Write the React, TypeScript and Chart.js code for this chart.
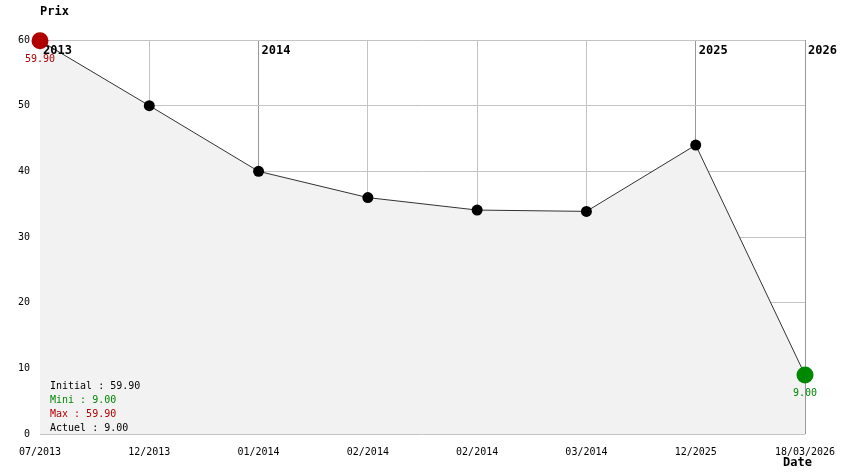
import React, { useEffect, useRef } from "react";
import { Chart, registerables } from "chart.js";

Chart.register(...registerables);

const categories = ["07/2013", "12/2013", "01/2014", "02/2014", "02/2014", "03/2014", "12/2025", "18/03/2026"];
const prices = [59.9, 50, 40, 36, 34.1, 33.9, 44, 9];
const yearMarks = [
  { index: 0, label: "2013" },
  { index: 2, label: "2014" },
  { index: 6, label: "2025" },
  { index: 7, label: "2026" },
];
const summaryLines = [
  { text: "Initial : 59.90", color: "#000000" },
  { text: "Mini : 9.00", color: "#008800" },
  { text: "Max : 59.90", color: "#b00000" },
  { text: "Actuel : 9.00", color: "#000000" },
];

const MONO = "'DejaVu Sans Mono', 'Liberation Mono', monospace";
const RED = "#b00000";
const GREEN = "#008800";

export default function App() {
  const ref = useRef<HTMLCanvasElement | null>(null);

  useEffect(() => {
    const canvas = ref.current;
    if (!canvas) return;
    const minIdx = prices.indexOf(Math.min(...prices));
    const maxIdx = prices.indexOf(Math.max(...prices));
    const pointColors = prices.map((_, i) => (i === maxIdx ? RED : i === minIdx ? GREEN : "#000000"));
    const pointRadii = prices.map((_, i) => (i === maxIdx || i === minIdx ? 8.5 : 5.5));
    const yearIdx = new Set(yearMarks.map((m) => m.index));

    const overlay = {
      id: "overlay",
      afterDatasetDraw(chart: any, args: any) {
        if (args.index !== 1) return;
        const ctx = chart.ctx;
        const xs = chart.scales.x;
        ctx.save();
        ctx.font = `bold 12px ${MONO}`;
        ctx.fillStyle = "#000";
        ctx.textBaseline = "middle";
        ctx.textAlign = "left";
        for (const m of yearMarks) {
          const x = xs.getPixelForValue(m.index);
          ctx.fillText(m.label, x + 3, 51);
        }
        ctx.restore();
      },
      afterDraw(chart: any) {
        const ctx = chart.ctx;
        const xs = chart.scales.x;
        const ys = chart.scales.y;
        ctx.save();
        ctx.textBaseline = "middle";
        ctx.font = `bold 12px ${MONO}`;
        ctx.fillStyle = "#000";
        ctx.textAlign = "left";
        ctx.fillText("Prix", 40, 12);
        ctx.fillText("Date", 783, 463);
        ctx.font = `10px ${MONO}`;
        summaryLines.forEach((l, i) => {
          ctx.fillStyle = l.color;
          ctx.fillText(l.text, 50, 386 + i * 14);
        });
        ctx.textAlign = "center";
        ctx.fillStyle = RED;
        ctx.fillText(prices[maxIdx].toFixed(2), xs.getPixelForValue(maxIdx), ys.getPixelForValue(prices[maxIdx]) + 19);
        ctx.fillStyle = GREEN;
        ctx.fillText(prices[minIdx].toFixed(2), xs.getPixelForValue(minIdx), ys.getPixelForValue(prices[minIdx]) + 19);
        ctx.restore();
      },
    };

    const chart = new Chart(canvas, {
      type: "line",
      data: {
        labels: categories,
        datasets: [
          {
            label: "points",
            data: prices,
            showLine: false,
            pointRadius: pointRadii,
            pointHoverRadius: pointRadii,
            pointBackgroundColor: pointColors,
            pointBorderColor: pointColors,
            pointBorderWidth: 0,
            clip: false,
            order: 1,
          },
          {
            label: "Prix",
            data: prices,
            borderColor: "#333333",
            borderWidth: 1,
            backgroundColor: "#f2f2f2",
            fill: "origin",
            pointRadius: 0,
            tension: 0,
            order: 2,
          },
        ],
      },
      options: {
        animation: false,
        responsive: false,
        maintainAspectRatio: false,
        events: [],
        layout: { padding: { top: 40, right: 39, left: 0, bottom: 0 } },
        plugins: { legend: { display: false }, tooltip: { enabled: false } },
        scales: {
          x: {
            type: "category",
            offset: false,
            border: { display: false },
            grid: {
              drawTicks: false,
              color: (c: any) => (yearIdx.has(c.index) && c.index !== 0 ? "#999999" : "#c4c4c4"),
              lineWidth: 1,
            },
            ticks: {
              autoSkip: false,
              maxRotation: 0,
              minRotation: 0,
              padding: 12,
              color: "#000",
              font: { family: MONO, size: 10 },
            },
            afterFit: (s: any) => {
              s.height = 40;
              s.paddingLeft = 0;
              s.paddingRight = 0;
            },
          },
          y: {
            min: 0,
            max: 60,
            border: { display: false },
            grid: {
              drawTicks: false,
              color: "#c4c4c4",
              lineWidth: 1,
            },
            ticks: {
              stepSize: 10,
              padding: 10,
              color: "#000",
              font: { family: MONO, size: 10 },
            },
            afterFit: (s: any) => {
              s.width = 40;
              s.paddingTop = 0;
              s.paddingBottom = 0;
            },
          },
        },
      },
      plugins: [overlay],
    });
    return () => chart.destroy();
  }, []);

  return (
    <div style={{ position: "fixed", left: 0, top: 0, width: 844, height: 474, background: "#fff" }}>
      <canvas ref={ref} width={844} height={474} style={{ display: "block", width: 844, height: 474 }} />
    </div>
  );
}
